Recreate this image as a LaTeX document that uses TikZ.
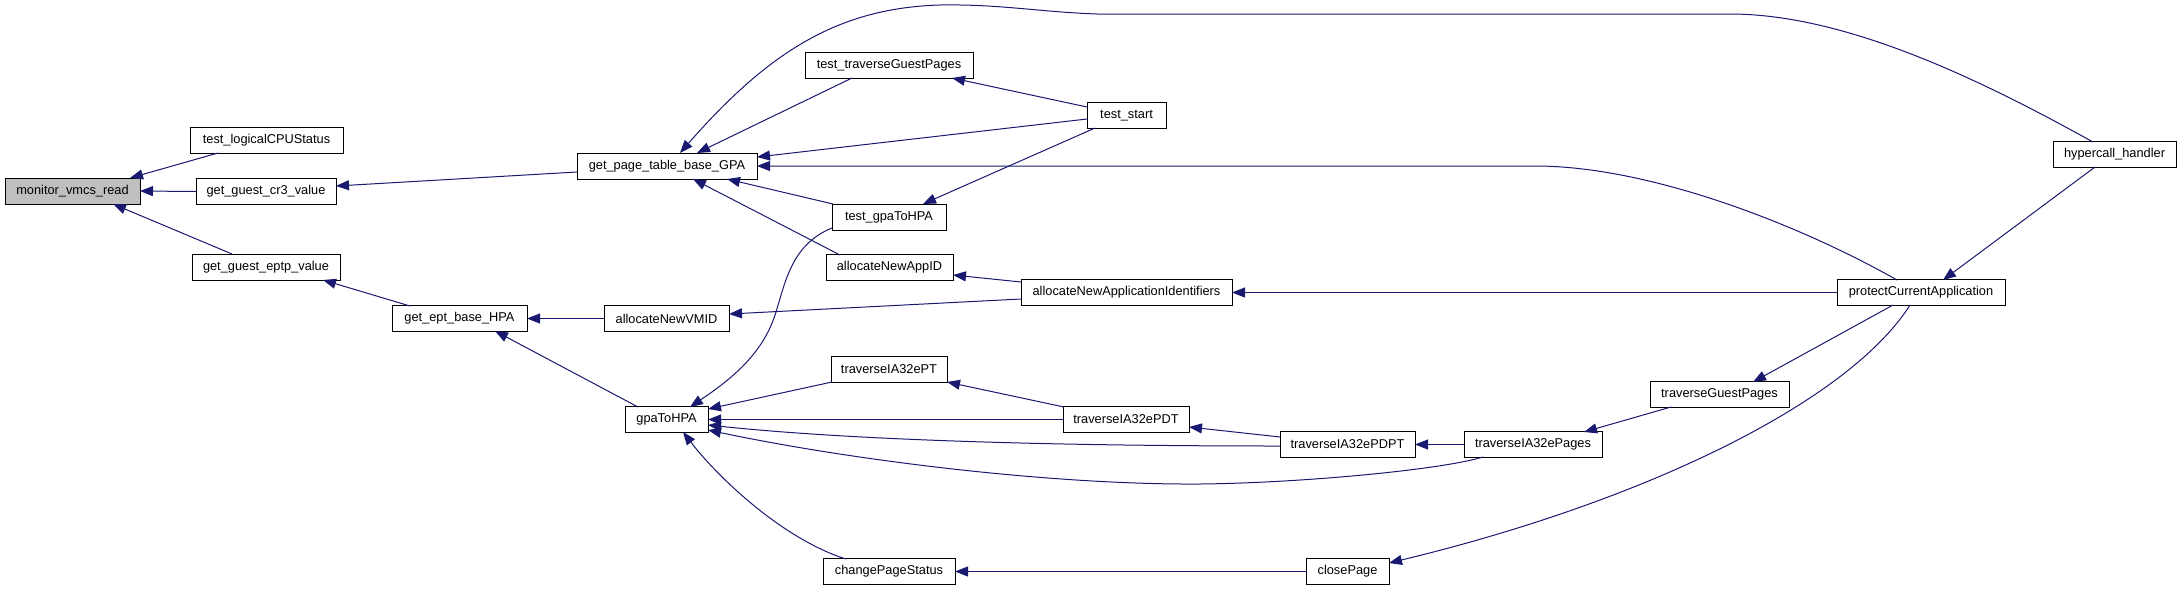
\documentclass[tikz,border=0pt]{standalone}
\usepackage{fontspec}
\setmainfont{Liberation Sans}
\usetikzlibrary{arrows.meta}
\definecolor{edgeblue}{RGB}{25,25,112}
\definecolor{hilite}{RGB}{191,191,191}
\begin{document}
\begin{tikzpicture}[x=1pt,y=-1pt,
  box/.style={draw=black,line width=1pt,fill=white,inner sep=0pt,outer sep=0pt,
    minimum height=26pt,font=\fontsize{12.8}{15}\selectfont},
  edge/.style={draw=edgeblue,line width=1pt,-{Triangle[length=13pt,width=10pt]}}]
\useasboundingbox (0,0) rectangle (2181,590);
% nodes
\node[box,fill=hilite,minimum width=135pt] (monitor) at (72.5,191) {monitor\_vmcs\_read};
\node[box,minimum width=153pt] (tlog) at (266.5,140) {test\_logicalCPUStatus};
\node[box,minimum width=140pt] (cr3) at (266,191.5) {get\_guest\_cr3\_value};
\node[box,minimum width=148pt] (eptp) at (266,267) {get\_guest\_eptp\_value};
\node[box,minimum width=180pt] (gpa) at (667,166) {get\_page\_table\_base\_GPA};
\node[box,minimum width=135pt] (eptb) at (459.5,318.5) {get\_ept\_base\_HPA};
\node[box,minimum width=168pt] (ttgp) at (889,65) {test\_traverseGuestPages};
\node[box,minimum width=114pt] (tgpa) at (889,217) {test\_gpaToHPA};
\node[box,minimum width=127pt] (appid) at (889.5,267.5) {allocateNewAppID};
\node[box,minimum width=125pt] (vmid) at (666.5,318.5) {allocateNewVMID};
\node[box,minimum width=83pt] (gpahpa) at (666.5,419.5) {gpaToHPA};
\node[box,minimum width=116pt] (ept) at (889,369) {traverseIA32ePT};
\node[box,minimum width=132pt] (cps) at (889,571.5) {changePageStatus};
\node[box,minimum width=79pt] (tstart) at (1126.5,115.5) {test\_start};
\node[box,minimum width=211pt] (ids) at (1126.5,292.5) {allocateNewApplicationIdentifiers};
\node[box,minimum width=126pt] (pdt) at (1126,419.5) {traverseIA32ePDT};
\node[box,minimum width=135pt] (pdpt) at (1347.5,444.5) {traverseIA32ePDPT};
\node[box,minimum width=83pt] (close) at (1347.5,571.5) {closePage};
\node[box,minimum width=138pt] (pages) at (1533,444.5) {traverseIA32ePages};
\node[box,minimum width=139pt] (tgp) at (1719.5,394.5) {traverseGuestPages};
\node[box,minimum width=168pt] (protect) at (1921,292.5) {protectCurrentApplication};
\node[box,minimum width=123pt] (hyp) at (2114.5,154.5) {hypercall\_handler};
% edges (caller -> callee)
\draw[edge] ([shift={(-48.5,13)}]tlog.center) -- ([shift={(57.5,-13)}]monitor.center);
\draw[edge] (cr3.west) -- (monitor.east);
\draw[edge] ([shift={(-34,-13)}]eptp.center) -- ([shift={(40.5,13)}]monitor.center);
\draw[edge] ([shift={(-90,6)}]gpa.center) -- ([shift={(70,-5.5)}]cr3.center);
\draw[edge] ([shift={(-49.5,-12.5)}]eptb.center) -- ([shift={(57,13)}]eptp.center);
\draw[edge] ([shift={(-21.5,-12.5)}]hyp.center) .. controls (1990,85) and (1850,14) .. (1730,14)
  -- (1097,14) .. controls (1040,12) and (1000,4) .. (940,5)
  .. controls (840,8) and (770,50) .. ([shift={(13,-13)}]gpa.center);
\draw[edge] ([shift={(-37,13)}]ttgp.center) -- ([shift={(30,-13)}]gpa.center);
\draw[edge] ([shift={(-39.5,3.5)}]tstart.center) -- ([shift={(90,-9)}]gpa.center);
\draw[edge] ([shift={(-24,-12.5)}]protect.center) .. controls (1800,225) and (1650,166) .. (1535,166) -- (gpa.east);
\draw[edge] ([shift={(-56,-13)}]tgpa.center) -- ([shift={(60,13)}]gpa.center);
\draw[edge] ([shift={(-49.5,-12.5)}]appid.center) -- ([shift={(26,13)}]gpa.center);
\draw[edge] ([shift={(-39.5,-8.5)}]tstart.center) -- ([shift={(63,13)}]ttgp.center);
\draw[edge] ([shift={(-31.5,12.5)}]tstart.center) -- ([shift={(34,-13)}]tgpa.center);
\draw[edge] ([shift={(-105.5,-10.5)}]ids.center) -- ([shift={(63.5,7.5)}]appid.center);
\draw[edge] (protect.west) -- (ids.east);
\draw[edge] (vmid.west) -- (eptb.east);
\draw[edge] ([shift={(-105.5,6.5)}]ids.center) -- ([shift={(62.5,-4.5)}]vmid.center);
\draw[edge] ([shift={(-28.5,-12.5)}]gpahpa.center) -- ([shift={(35.5,12.5)}]eptb.center);
\draw[edge] ([shift={(-57,11)}]tgpa.center) .. controls (790,245) and (785,285) .. (775,315)
  .. controls (762,355) and (730,380) .. ([shift={(23.5,-12.5)}]gpahpa.center);
\draw[edge] ([shift={(-57,13)}]ept.center) -- ([shift={(41.5,-10.5)}]gpahpa.center);
\draw[edge] (pdt.west) -- (gpahpa.east);
\draw[edge] ([shift={(-67.5,1.5)}]pdpt.center) .. controls (1050,446) and (850,440) .. ([shift={(41.5,5.5)}]gpahpa.center);
\draw[edge] ([shift={(-50,12.5)}]pages.center) .. controls (1440,470) and (1300,483) .. (1200,484)
  .. controls (1050,485) and (850,460) .. ([shift={(41.5,10.5)}]gpahpa.center);
\draw[edge] ([shift={(-43,-12.5)}]cps.center) .. controls (785,540) and (720,480) .. ([shift={(16.5,12.5)}]gpahpa.center);
\draw[edge] ([shift={(-62,-12.5)}]pdt.center) -- ([shift={(58,13)}]ept.center);
\draw[edge] ([shift={(-67.5,-7.5)}]pdpt.center) -- ([shift={(63,7.5)}]pdt.center);
\draw[edge] (pages.west) -- (pdpt.east);
\draw[edge] ([shift={(-48.5,12.5)}]tgp.center) -- ([shift={(51,-12.5)}]pages.center);
\draw[edge] ([shift={(-28,12.5)}]protect.center) -- ([shift={(33.5,-12.5)}]tgp.center);
\draw[edge] (close.west) -- (cps.east);
\draw[edge] ([shift={(-11,12.5)}]protect.center) .. controls (1850,400) and (1650,500) .. ([shift={(41.5,-8.5)}]close.center);
\draw[edge] ([shift={(-19.5,12.5)}]hyp.center) -- ([shift={(22,-12.5)}]protect.center);
\end{tikzpicture}
\end{document}
